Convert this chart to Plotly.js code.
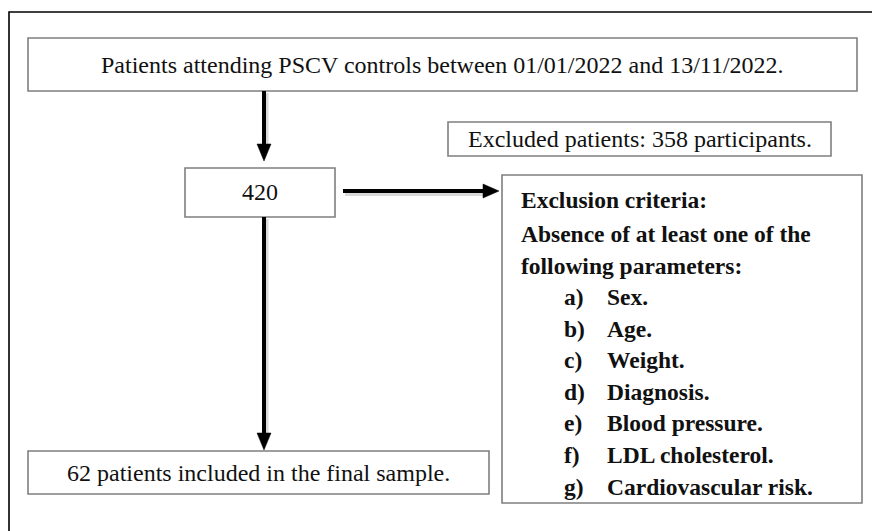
<!DOCTYPE html>
<html>
<head>
<meta charset="utf-8">
<script src="https://cdn.plot.ly/plotly-3.0.1.min.js"></script>
<style>html,body{margin:0;padding:0;background:#fff;}#chart{width:872px;height:531px;}</style>
</head>
<body>
<div id="chart"></div>
<script>
// ---- content ----
var stepLabels = [
  "Patients attending PSCV controls between 01/01/2022 and 13/11/2022.",
  "420",
  "62 patients included in the final sample."
];
var excludedLabel = "Excluded patients: 358 participants.";
var criteriaHeader = ["Exclusion criteria:", "Absence of at least one of the", "following parameters:"];
var criteriaKeys = ["a)", "b)", "c)", "d)", "e)", "f)", "g)"];
var criteriaItems = ["Sex.", "Age.", "Weight.", "Diagnosis.", "Blood pressure.", "LDL cholesterol.", "Cardiovascular risk."];

// ---- layout geometry ----
var boxes = [
  {x0: 28, x1: 857, y0: 38, y1: 91},
  {x0: 185, x1: 335, y0: 168, y1: 217},
  {x0: 28, x1: 489, y0: 451, y1: 494}
];
var exclBox = {x0: 448, x1: 831, y0: 122, y1: 156};
var critBox = {x0: 502, x1: 862, y0: 175, y1: 503};

var shapes = [];
var annotations = [];
var boxLine = {color: "#7f7f7f", width: 1.6};

// outer frame
shapes.push({type: "path", xref: "x", yref: "y", path: "M 9 540 L 9 12 L 880 12", line: {color: "#000", width: 1.6}});

function rect(b) {
  shapes.push({type: "rect", xref: "x", yref: "y", x0: b.x0, x1: b.x1, y0: b.y0, y1: b.y1, line: boxLine, fillcolor: "rgba(0,0,0,0)"});
}
boxes.forEach(rect);
rect(exclBox);
rect(critBox);

var serif = "Liberation Serif";
function txt(t, x, y, size, bold, anchor) {
  annotations.push({xref: "x", yref: "y", x: x, y: y, text: t, showarrow: false,
    xanchor: anchor || "center", yanchor: "middle", font: {family: serif, size: size, color: "#111", weight: bold ? "bold" : "normal"}});
}
txt(stepLabels[0], (boxes[0].x0 + boxes[0].x1) / 2, 65, 24, false);
txt(stepLabels[1], (boxes[1].x0 + boxes[1].x1) / 2, 192, 24, false);
txt(stepLabels[2], (boxes[2].x0 + boxes[2].x1) / 2, 473, 24, false);
txt(excludedLabel, (exclBox.x0 + exclBox.x1) / 2, 139, 24, false);

var lineY = [200, 234, 266];
criteriaHeader.forEach(function (t, i) { txt(t, 519, lineY[i], 23.5, true, "left"); });
var itemY0 = 297, itemDy = 31.6;
criteriaKeys.forEach(function (k, i) {
  txt(k, 562, itemY0 + i * itemDy, 23.5, true, "left");
  txt(criteriaItems[i], 605, itemY0 + i * itemDy, 23.5, true, "left");
});

// arrows (shadow + shaft + head)
function arrowDown(x, y0, y1) {
  shapes.push({type: "line", xref: "x", yref: "y", x0: x + 2, x1: x + 2, y0: y0 + 2, y1: y1 - 14, line: {color: "rgba(0,0,0,0.15)", width: 5}});
  shapes.push({type: "line", xref: "x", yref: "y", x0: x, x1: x, y0: y0, y1: y1 - 14, line: {color: "#000", width: 4}});
  shapes.push({type: "path", xref: "x", yref: "y", path: "M " + (x - 7) + " " + (y1 - 17) + " L " + (x + 7) + " " + (y1 - 17) + " L " + x + " " + y1 + " Z",
    fillcolor: "#000", line: {color: "#000", width: 0.5}});
}
function arrowRight(y, x0, x1) {
  shapes.push({type: "line", xref: "x", yref: "y", x0: x0 + 2, x1: x1 - 14, y0: y + 2.5, y1: y + 2.5, line: {color: "rgba(0,0,0,0.15)", width: 5}});
  shapes.push({type: "line", xref: "x", yref: "y", x0: x0, x1: x1 - 14, y0: y, y1: y, line: {color: "#000", width: 4}});
  shapes.push({type: "path", xref: "x", yref: "y", path: "M " + (x1 - 16) + " " + (y - 7) + " L " + (x1 - 16) + " " + (y + 7) + " L " + x1 + " " + y + " Z",
    fillcolor: "#000", line: {color: "#000", width: 0.5}});
}
arrowDown(264, 91, 161);
arrowDown(264, 217, 450);
arrowRight(191, 343, 499);

var layout = {
  width: 872, height: 531,
  margin: {l: 0, r: 0, t: 0, b: 0},
  paper_bgcolor: "#fff", plot_bgcolor: "#fff",
  xaxis: {range: [0, 872], visible: false, fixedrange: true},
  yaxis: {range: [531, 0], visible: false, fixedrange: true},
  showlegend: false,
  shapes: shapes,
  annotations: annotations
};
Plotly.newPlot("chart", [{x: [], y: [], type: "scatter", mode: "markers", hoverinfo: "skip"}], layout, {staticPlot: true, displayModeBar: false});
</script>
</body>
</html>
